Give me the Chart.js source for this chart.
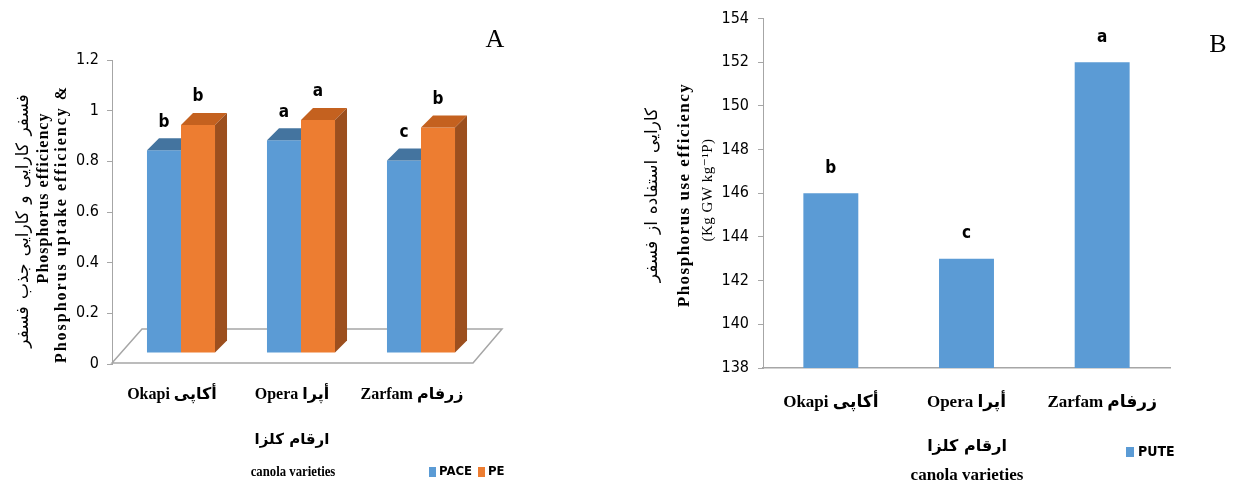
<!DOCTYPE html>
<html>
<head>
<meta charset="utf-8">
<script src="https://cdn.jsdelivr.net/npm/chart.js@4.4.1/dist/chart.umd.min.js"></script>
<style>
  body { margin: 0; background: #fff; width: 1234px; height: 484px; position: relative; overflow: hidden; }
  canvas { position: absolute; top: 0; }
  #chartA { left: 0; }
  #chartB { left: 620px; }
</style>
</head>
<body>
<canvas id="chartA" width="620" height="484"></canvas>
<canvas id="chartB" width="614" height="484"></canvas>
<script>
// data
const varieties = ['Okapi أکاپی', 'Opera أپرا', 'Zarfam زرفام'];
const paceValues = [0.80, 0.84, 0.76];
const peValues = [0.90, 0.92, 0.89];
const paceLetters = ['b', 'a', 'c'];
const peLetters = ['b', 'a', 'b'];
const puteValues = [146, 143, 152];
const puteLetters = ['b', 'c', 'a'];

const BLUE = '#5b9bd5';
const ORANGE = '#ed7d31';
const AXIS = '#a6a6a6';
const NARROW = "'Liberation Sans Narrow', 'DejaVu Sans Condensed', sans-serif";
const SERIF = "'Liberation Serif', 'DejaVu Sans', serif";
const PERSIAN = "'DejaVu Sans', sans-serif";

// 3d look for chart A: bars sit a bit back on the floor
const SHIFT_X = 9, SHIFT_Y = 11, DEPTH = 12;
const faceColors = [
  { top: '#44749f', side: null },
  { top: '#c4611f', side: '#9c4f1e' }
];
const letterSets = [paceLetters, peLetters];

function vtext(ctx, text, x, y, font, spacing) {
  ctx.save();
  ctx.translate(x, y);
  ctx.rotate(-Math.PI / 2);
  ctx.font = font;
  ctx.letterSpacing = spacing || '0px';
  ctx.textAlign = 'center';
  ctx.textBaseline = 'middle';
  ctx.fillStyle = '#000';
  ctx.fillText(text, 0, 0);
  ctx.restore();
}

function htext(ctx, text, x, y, font, align, squeeze) {
  ctx.save();
  ctx.translate(x, y);
  if (squeeze) ctx.scale(squeeze, 1);
  ctx.font = font;
  ctx.textAlign = align || 'center';
  ctx.textBaseline = 'middle';
  ctx.fillStyle = '#000';
  ctx.fillText(text, 0, 0);
  ctx.restore();
}

const threeD = {
  id: 'threeD',
  beforeDatasetsDraw(chart) {
    const { ctx, chartArea: a } = chart;
    ctx.save();
    ctx.strokeStyle = AXIS;
    ctx.lineWidth = 1.5;
    ctx.beginPath();
    ctx.moveTo(a.left, a.bottom - 1);
    ctx.lineTo(a.right + 1, a.bottom - 1);
    ctx.lineTo(a.right + 30, a.bottom - 35);
    ctx.lineTo(a.left + 30, a.bottom - 35);
    ctx.closePath();
    ctx.stroke();
    ctx.restore();
    ctx.save();
    ctx.translate(SHIFT_X, -SHIFT_Y);
  },
  afterDatasetsDraw(chart) {
    const ctx = chart.ctx;
    ctx.restore();
    chart.data.datasets.forEach((ds, i) => {
      const fc = faceColors[i];
      chart.getDatasetMeta(i).data.forEach((bar, j) => {
        const p = bar.getProps(['x', 'y', 'base', 'width'], true);
        const x1 = p.x - p.width / 2 + SHIFT_X;
        const x2 = p.x + p.width / 2 + SHIFT_X;
        const top = p.y - SHIFT_Y;
        const bottom = p.base - SHIFT_Y;
        ctx.save();
        ctx.fillStyle = fc.top;
        ctx.beginPath();
        ctx.moveTo(x1, top);
        ctx.lineTo(x2, top);
        if (fc.side) ctx.lineTo(x2 + DEPTH, top - DEPTH);
        else ctx.lineTo(x2, top - DEPTH);
        ctx.lineTo(x1 + DEPTH, top - DEPTH);
        ctx.closePath();
        ctx.fill();
        if (fc.side) {
          ctx.fillStyle = fc.side;
          ctx.beginPath();
          ctx.moveTo(x2, top);
          ctx.lineTo(x2 + DEPTH, top - DEPTH);
          ctx.lineTo(x2 + DEPTH, bottom - DEPTH);
          ctx.lineTo(x2, bottom);
          ctx.closePath();
          ctx.fill();
        }
        ctx.restore();
        htext(ctx, letterSets[i][j], (x1 + x2) / 2, top - DEPTH - 16, 'bold 17px ' + NARROW);
      });
    });
  },
  afterDraw(chart) {
    const ctx = chart.ctx;
    vtext(ctx, 'فسفر کارایی و کارایی جذب فسفر', 24, 221, '17px ' + PERSIAN, '2px');
    vtext(ctx, 'Phosphorus efficiency', 44, 198, 'bold 16px ' + SERIF, '1px');
    vtext(ctx, 'Phosphorus uptake efficiency &', 62, 224, 'bold 16px ' + SERIF, '2px');
    htext(ctx, 'A', 495, 40, '26px ' + SERIF);
    htext(ctx, 'ارقام کلزا', 292, 440, 'bold 15px ' + PERSIAN);
    htext(ctx, 'canola varieties', 293, 472, 'bold 15px ' + SERIF, 'center', 0.85);
    // legend
    const items = chart.data.datasets;
    let x = 429;
    items.forEach((ds) => {
      ctx.fillStyle = ds.backgroundColor;
      ctx.fillRect(x, 467, 7, 10);
      htext(ctx, ds.label, x + 10, 472, 'bold 13px ' + NARROW, 'left');
      ctx.font = 'bold 13px ' + NARROW;
      x += 10 + ctx.measureText(ds.label).width + 6;
    });
  }
};

new Chart(document.getElementById('chartA'), {
  type: 'bar',
  data: {
    labels: varieties,
    datasets: [
      { label: 'PACE', data: paceValues, backgroundColor: BLUE },
      { label: 'PE', data: peValues, backgroundColor: ORANGE }
    ]
  },
  options: {
    responsive: false,
    animation: false,
    devicePixelRatio: 1,
    layout: { padding: { left: 0, top: 60, right: 148, bottom: 0 } },
    categoryPercentage: 0.567,
    barPercentage: 1,
    plugins: { legend: { display: false }, tooltip: { enabled: false } },
    scales: {
      x: {
        grid: { display: false, drawTicks: false },
        border: { display: false },
        ticks: { color: '#000', padding: 21, font: { family: SERIF, size: 16, weight: 'bold' } },
        afterFit: (s) => { s.height = 120; }
      },
      y: {
        min: 0,
        max: 1.2,
        ticks: {
          stepSize: 0.2, color: '#000', padding: 8, font: { family: NARROW, size: 16 },
          callback: (v) => String(Number(v.toFixed(1)))
        },
        grid: { drawOnChartArea: false, tickLength: 5, color: AXIS },
        border: { color: AXIS },
        afterFit: (s) => { s.width = 112; }
      }
    }
  },
  plugins: [threeD]
});

const chartBText = {
  id: 'chartBText',
  afterDatasetsDraw(chart) {
    const ctx = chart.ctx;
    chart.getDatasetMeta(0).data.forEach((bar, j) => {
      htext(ctx, puteLetters[j], bar.x, bar.y - 25, 'bold 17px ' + NARROW);
    });
  },
  afterDraw(chart) {
    const ctx = chart.ctx;
    vtext(ctx, 'کارایی استفاده از فسفر', 33, 195, '17px ' + PERSIAN, '1.5px');
    vtext(ctx, 'Phosphorus use efficiency', 65, 195, 'bold 17px ' + SERIF, '1.5px');
    vtext(ctx, '(Kg GW kg⁻¹P)', 88, 190, '15px ' + SERIF, '0.5px');
    htext(ctx, 'B', 598, 45, '26px ' + SERIF);
    htext(ctx, 'ارقام کلزا', 347, 447, 'bold 16px ' + PERSIAN);
    htext(ctx, 'canola varieties', 347, 476, 'bold 17px ' + SERIF);
    const ds = chart.data.datasets[0];
    ctx.fillStyle = ds.backgroundColor;
    ctx.fillRect(506, 447, 8, 10);
    htext(ctx, ds.label, 518, 452, 'bold 14px ' + NARROW, 'left');
  }
};

new Chart(document.getElementById('chartB'), {
  type: 'bar',
  data: {
    labels: varieties,
    datasets: [
      { label: 'PUTE', data: puteValues, backgroundColor: BLUE }
    ]
  },
  options: {
    responsive: false,
    animation: false,
    devicePixelRatio: 1,
    layout: { padding: { left: 0, top: 18, right: 64, bottom: 0 } },
    categoryPercentage: 1,
    barPercentage: 0.405,
    plugins: { legend: { display: false }, tooltip: { enabled: false } },
    scales: {
      x: {
        grid: { display: false, drawTicks: false },
        border: { display: true, color: AXIS, width: 1.5 },
        ticks: { color: '#000', padding: 24, font: { family: SERIF, size: 17, weight: 'bold' } },
        afterFit: (s) => { s.height = 116; }
      },
      y: {
        min: 138,
        max: 154,
        ticks: { stepSize: 2, color: '#000', padding: 9, font: { family: NARROW, size: 16 } },
        grid: { drawOnChartArea: false, tickLength: 5, color: AXIS },
        border: { color: AXIS },
        afterFit: (s) => { s.width = 143; }
      }
    }
  },
  plugins: [chartBText]
});
</script>
</body>
</html>
